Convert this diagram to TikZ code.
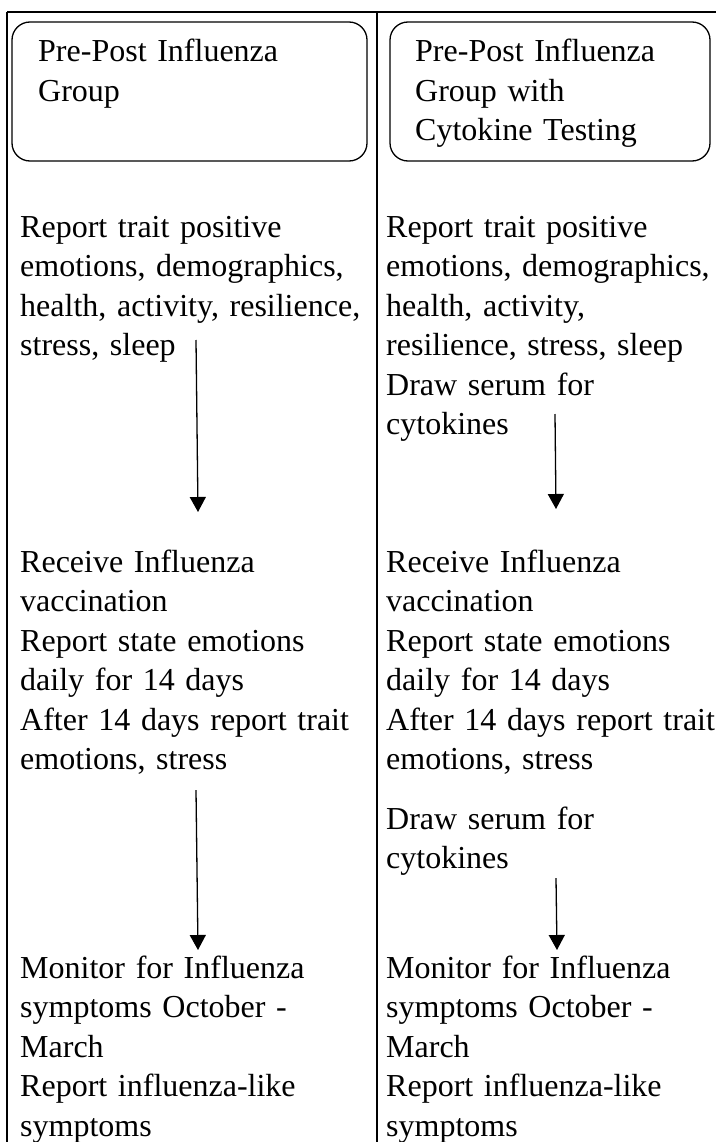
\documentclass[tikz,border=0pt]{standalone}
\usepackage{fontspec}
\setmainfont{Liberation Serif}
\usetikzlibrary{arrows.meta}
\begin{document}
\begin{tikzpicture}[x=1pt,y=-1pt,
  rule/.style={line width=1.6pt},
  headbox/.style={draw, line width=1.3pt, rounded corners=18pt},
  txt/.style={anchor=base west, inner sep=0pt, text width=420pt, align=left,
    font=\fontsize{32.0}{39.5}\selectfont},
  flow/.style={line width=1.3pt, -{Triangle[width=16pt,length=15pt]}}]
\useasboundingbox (0,0) rectangle (716,1142);
% table rules
\draw[rule] (7,12) -- (716,12);
\draw[rule] (7,12) -- (7,1142);
\draw[rule] (376.7,12) -- (376.7,1142);
% header boxes
\draw[headbox] (12,22) rectangle (367,161);
\draw[headbox] (390,22) rectangle (710,161);
\node[txt] (hl) at (38,62) {Pre-Post Influenza\\Group};
\node[txt] (hr) at (415,62) {Pre-Post Influenza\\Group with\\Cytokine Testing};
% left column
\node[txt] (l1) at (20,237) {Report trait positive\\emotions, demographics,\\health, activity, resilience,\\stress, sleep};
\node[txt] (l2) at (20,572) {Receive Influenza\\vaccination\\Report state emotions\\daily for 14 days\\After 14 days report trait\\emotions, stress};
\node[txt] (l3) at (20,978) {Monitor for Influenza\\symptoms October -\\March\\Report influenza-like\\symptoms};
% right column
\node[txt] (r1) at (386,237) {Report trait positive\\emotions, demographics,\\health, activity,\\resilience, stress, sleep\\Draw serum for\\cytokines};
\node[txt] (r2) at (386,572) {Receive Influenza\\vaccination\\Report state emotions\\daily for 14 days\\After 14 days report trait\\emotions, stress};
\node[txt] (r3) at (386,829) {Draw serum for\\cytokines};
\node[txt] (r4) at (386,978) {Monitor for Influenza\\symptoms October -\\March\\Report influenza-like\\symptoms};
% arrows
\coordinate (a1s) at (196,340);
\coordinate (a1e) at (198,512);
\coordinate (a2s) at (196,790);
\coordinate (a2e) at (198,950);
\coordinate (b1s) at (555,414);
\coordinate (b1e) at (556,509);
\coordinate (b2s) at (556,878);
\coordinate (b2e) at (557,950);
\draw[flow] (a1s) -- (a1e);
\draw[flow] (a2s) -- (a2e);
\draw[flow] (b1s) -- (b1e);
\draw[flow] (b2s) -- (b2e);
\end{tikzpicture}
\end{document}
